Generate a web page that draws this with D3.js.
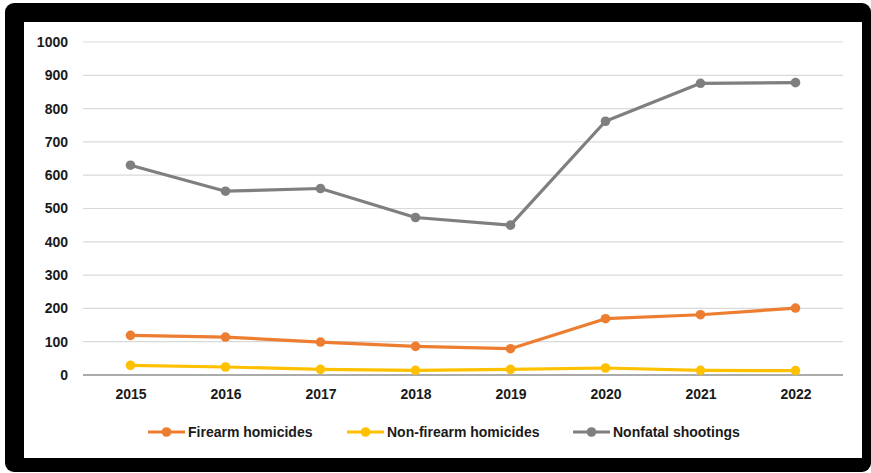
<!DOCTYPE html>
<html lang="en">
<head>
    <meta charset="UTF-8">
    <title>Shootings and homicides 2015-2022</title>
    <style>
        html, body { margin: 0; padding: 0; background: #fff; }
        svg { display: block; }
        text { font-family: "Liberation Sans", Arial, sans-serif; font-weight: bold; fill: #1a1a1a; }
    </style>
    <script src="https://cdnjs.cloudflare.com/ajax/libs/d3/7.8.5/d3.min.js"></script>
</head>
<body>
<div id="chart"></div>
<script>
    // Data
    const years = ["2015", "2016", "2017", "2018", "2019", "2020", "2021", "2022"];
    const firearmHomicides = [119, 114, 99, 86, 79, 169, 181, 201];
    const nonFirearmHomicides = [29, 24, 17, 14, 17, 21, 14, 13];
    const nonfatalShootings = [630, 552, 560, 473, 450, 762, 876, 878];
    const yTicks = [0, 100, 200, 300, 400, 500, 600, 700, 800, 900, 1000];

    const seriesNames = ["Firearm homicides", "Non-firearm homicides", "Nonfatal shootings"];
    const seriesColors = ["#ED7D31", "#FFC000", "#7F7F7F"];

    const W = 871, H = 473;
    const margin = { top: 42, right: 28, bottom: 98, left: 83 };

    const svg = d3.select("#chart").append("svg")
        .attr("width", W)
        .attr("height", H);

    // black frame with white panel
    svg.append("rect")
        .attr("x", 5).attr("y", 3)
        .attr("width", W - 5).attr("height", H - 4)
        .attr("rx", 9)
        .attr("fill", "#000");
    svg.append("rect")
        .attr("x", 24).attr("y", 22)
        .attr("width", 838).attr("height", 436)
        .attr("fill", "#fff");

    const x = d3.scalePoint()
        .domain(years)
        .range([margin.left, W - margin.right])
        .padding(0.5);

    const y = d3.scaleLinear()
        .domain([0, 1000])
        .range([H - margin.bottom, margin.top]);

    // gridlines
    svg.append("g")
        .selectAll("line")
        .data(yTicks.filter(d => d > 0))
        .join("line")
        .attr("x1", margin.left)
        .attr("x2", W - margin.right)
        .attr("y1", d => y(d))
        .attr("y2", d => y(d))
        .attr("stroke", "#d9d9d9")
        .attr("stroke-width", 1.2);

    // y axis labels
    const yAxis = svg.append("g")
        .attr("transform", `translate(${margin.left},0)`)
        .call(d3.axisLeft(y).tickValues(yTicks).tickFormat(d3.format("d")).tickSize(0).tickPadding(15));
    yAxis.select(".domain").remove();
    yAxis.selectAll("text")
        .style("font-size", "14px")
        .attr("fill", "#1a1a1a");

    // x axis
    const xAxis = svg.append("g")
        .attr("transform", `translate(0,${y(0)})`)
        .call(d3.axisBottom(x).tickSize(0).tickPadding(14));
    xAxis.select(".domain")
        .attr("d", `M${margin.left},0H${W - margin.right}`)
        .attr("stroke", "#595959")
        .attr("stroke-width", 1.2);
    xAxis.selectAll("text")
        .style("font-size", "14px")
        .attr("fill", "#1a1a1a");

    // lines
    const allSeries = [firearmHomicides, nonFirearmHomicides, nonfatalShootings];
    const line = d3.line()
        .x((d, i) => x(years[i]))
        .y(d => y(d));

    allSeries.forEach((values, s) => {
        const g = svg.append("g");
        g.append("path")
            .datum(values)
            .attr("d", line)
            .attr("fill", "none")
            .attr("stroke", seriesColors[s])
            .attr("stroke-width", 3.2)
            .attr("stroke-linejoin", "round");
        g.selectAll("circle")
            .data(values)
            .join("circle")
            .attr("cx", (d, i) => x(years[i]))
            .attr("cy", d => y(d))
            .attr("r", 4.8)
            .attr("fill", seriesColors[s]);
    });

    // legend
    const legendX = [148, 347, 573];
    const legendY = 432;
    const legend = svg.append("g");
    seriesNames.forEach((name, s) => {
        const g = legend.append("g").attr("transform", `translate(${legendX[s]},${legendY})`);
        g.append("line")
            .attr("x1", 0).attr("x2", 37)
            .attr("stroke", seriesColors[s])
            .attr("stroke-width", 3.2);
        g.append("circle")
            .attr("cx", 18.5).attr("r", 4.8)
            .attr("fill", seriesColors[s]);
        g.append("text")
            .attr("x", 40)
            .attr("dy", "0.35em")
            .style("font-size", "14px")
            .text(name);
    });
</script>
</body>
</html>
